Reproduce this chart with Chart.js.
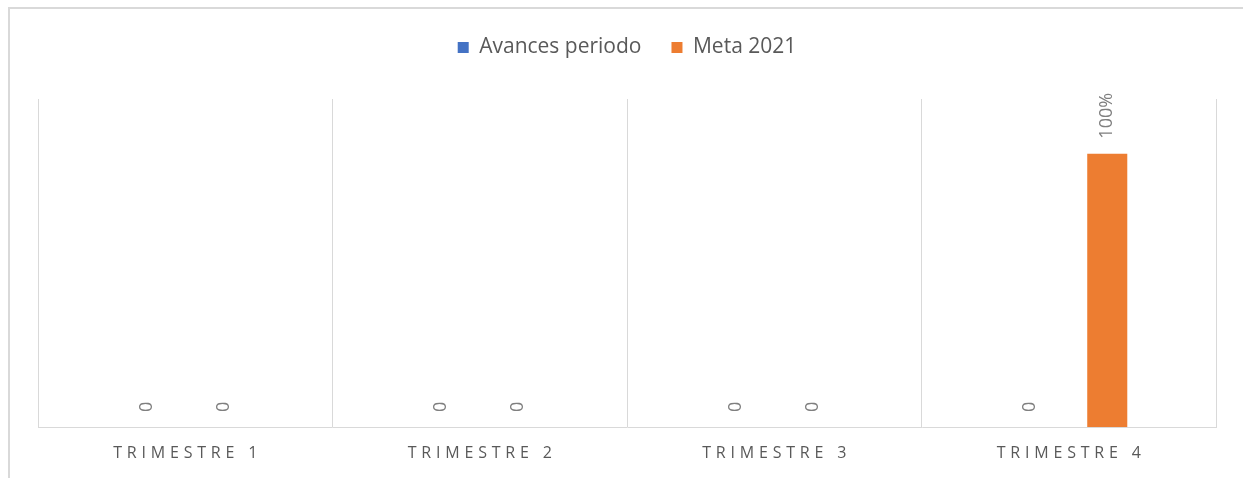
<!DOCTYPE html>
<html>
<head>
<meta charset="utf-8">
<script src="https://cdn.jsdelivr.net/npm/chart.js@4"></script>
<style>
  html, body { margin: 0; padding: 0; background: #fff; overflow: hidden; }
  #frame { position: absolute; left: 8px; top: 7px; width: 1400px; height: 600px; border: 2px solid #d9d9d9; box-sizing: border-box; }
  #wrap { position: absolute; left: 0; top: 0; width: 1243px; height: 478px; }
</style>
</head>
<body>
<div id="frame"></div>
<div id="wrap"><canvas id="c" width="1243" height="478"></canvas></div>
<script>
const categories = ['TRIMESTRE 1', 'TRIMESTRE 2', 'TRIMESTRE 3', 'TRIMESTRE 4'];
const avancesPeriodo = [0, 0, 0, 0];
const meta2021 = [0, 0, 0, 1];
const seriesNames = ['Avances periodo', 'Meta 2021'];
const yMax = 1.2;

function fmt(v) { return v === 0 ? '0' : Math.round(v * 100) + '%'; }

const FONT = "'Open Sans', 'Liberation Sans', sans-serif";

const dataLabels = {
  id: 'dataLabels',
  afterDatasetsDraw(chart) {
    const ctx = chart.ctx;
    ctx.save();
    ctx.fillStyle = '#7f7f7f';
    ctx.font = '18px ' + FONT;
    chart.data.datasets.forEach((ds, di) => {
      const meta = chart.getDatasetMeta(di);
      meta.data.forEach((el, i) => {
        const txt = fmt(ds.data[i]);
        ctx.save();
        ctx.translate(el.x, el.y - 15);
        ctx.rotate(-Math.PI / 2);
        ctx.textAlign = 'left';
        ctx.textBaseline = 'middle';
        ctx.fillText(txt, 0, 0);
        ctx.restore();
      });
    });
    ctx.restore();
  }
};

const spacedTicks = {
  id: 'spacedTicks',
  afterDraw(chart) {
    const ctx = chart.ctx;
    const scale = chart.scales.x;
    const spacing = 4.8;
    ctx.save();
    ctx.fillStyle = '#595959';
    ctx.font = '16px ' + FONT;
    ctx.textBaseline = 'middle';
    ctx.textAlign = 'left';
    categories.forEach((label, i) => {
      const cx = scale.getPixelForTick(i);
      const chars = label.split('');
      const widths = chars.map(ch => ctx.measureText(ch).width);
      const total = widths.reduce((a, b) => a + b, 0) + spacing * (chars.length - 1);
      let x = cx - total / 2;
      const y = chart.chartArea.bottom + 26;
      chars.forEach((ch, k) => {
        ctx.fillText(ch, x, y);
        x += widths[k] + spacing;
      });
    });
    ctx.restore();
  }
};

const chart = new Chart(document.getElementById('c'), {
  type: 'bar',
  data: {
    labels: categories,
    datasets: [
      { label: seriesNames[0], data: avancesPeriodo, backgroundColor: '#4472C4', borderWidth: 0 },
      { label: seriesNames[1], data: meta2021, backgroundColor: '#ED7D31', borderWidth: 0 }
    ]
  },
  options: {
    responsive: false,
    animation: false,
    events: [],
    layout: { padding: { left: 38, right: 27, top: 7, bottom: 51 } },
    datasets: { bar: { categoryPercentage: 0.523, barPercentage: 0.52 } },
    scales: {
      x: {
        grid: { display: true, offset: true, color: '#d9d9d9', lineWidth: 1, drawTicks: false },
        border: { display: true, color: '#d9d9d9', width: 1 },
        ticks: { display: false }
      },
      y: { display: false, min: 0, max: yMax }
    },
    plugins: {
      legend: {
        position: 'top',
        labels: {
          boxWidth: 11, boxHeight: 11, padding: 30,
          color: '#595959',
          font: { size: 21, family: FONT }
        }
      },
      tooltip: { enabled: false }
    }
  },
  plugins: [dataLabels, spacedTicks]
});

// extra room between the legend and the plot area
const origFit = chart.legend.fit;
chart.legend.fit = function () {
  origFit.call(this);
  this.height += 31;
};
chart.update();
</script>
</body>
</html>
